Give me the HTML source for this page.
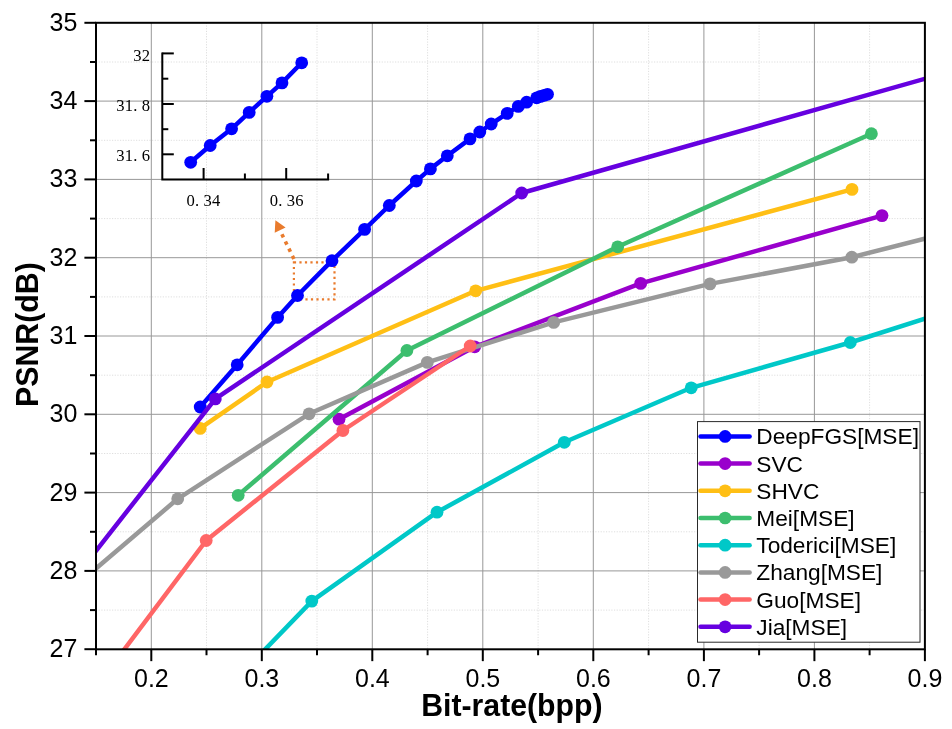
<!DOCTYPE html>
<html><head><meta charset="utf-8"><title>PSNR vs Bit-rate</title>
<style>html,body{margin:0;padding:0;background:#fff;}svg{display:block;will-change:transform;}text{font-family:"Liberation Sans",sans-serif;fill:#000;}.s{font-family:"Liberation Serif",serif;font-size:16.6px;}</style></head><body>
<svg width="952" height="729" viewBox="0 0 952 729">
<rect width="952" height="729" fill="#fff"/>
<defs><clipPath id="cp"><rect x="96.0" y="22.8" width="828.9" height="626.45"/></clipPath></defs>
<g><line x1="206.5" y1="22.8" x2="206.5" y2="649.25" stroke="#dedede" stroke-width="1" stroke-dasharray="1.2 1.47"/><line x1="317.0" y1="22.8" x2="317.0" y2="649.25" stroke="#dedede" stroke-width="1" stroke-dasharray="1.2 1.47"/><line x1="427.6" y1="22.8" x2="427.6" y2="649.25" stroke="#dedede" stroke-width="1" stroke-dasharray="1.2 1.47"/><line x1="538.1" y1="22.8" x2="538.1" y2="649.25" stroke="#dedede" stroke-width="1" stroke-dasharray="1.2 1.47"/><line x1="648.6" y1="22.8" x2="648.6" y2="649.25" stroke="#dedede" stroke-width="1" stroke-dasharray="1.2 1.47"/><line x1="759.1" y1="22.8" x2="759.1" y2="649.25" stroke="#dedede" stroke-width="1" stroke-dasharray="1.2 1.47"/><line x1="869.6" y1="22.8" x2="869.6" y2="649.25" stroke="#dedede" stroke-width="1" stroke-dasharray="1.2 1.47"/><line x1="96.0" y1="610.1" x2="924.9" y2="610.1" stroke="#dedede" stroke-width="1" stroke-dasharray="1.2 1.47"/><line x1="96.0" y1="531.8" x2="924.9" y2="531.8" stroke="#dedede" stroke-width="1" stroke-dasharray="1.2 1.47"/><line x1="96.0" y1="453.5" x2="924.9" y2="453.5" stroke="#dedede" stroke-width="1" stroke-dasharray="1.2 1.47"/><line x1="96.0" y1="375.2" x2="924.9" y2="375.2" stroke="#dedede" stroke-width="1" stroke-dasharray="1.2 1.47"/><line x1="96.0" y1="296.9" x2="924.9" y2="296.9" stroke="#dedede" stroke-width="1" stroke-dasharray="1.2 1.47"/><line x1="96.0" y1="218.6" x2="924.9" y2="218.6" stroke="#dedede" stroke-width="1" stroke-dasharray="1.2 1.47"/><line x1="96.0" y1="140.3" x2="924.9" y2="140.3" stroke="#dedede" stroke-width="1" stroke-dasharray="1.2 1.47"/><line x1="96.0" y1="62.0" x2="924.9" y2="62.0" stroke="#dedede" stroke-width="1" stroke-dasharray="1.2 1.47"/><line x1="151.3" y1="22.8" x2="151.3" y2="649.25" stroke="#989898" stroke-width="1"/><line x1="261.8" y1="22.8" x2="261.8" y2="649.25" stroke="#989898" stroke-width="1"/><line x1="372.3" y1="22.8" x2="372.3" y2="649.25" stroke="#989898" stroke-width="1"/><line x1="482.8" y1="22.8" x2="482.8" y2="649.25" stroke="#989898" stroke-width="1"/><line x1="593.3" y1="22.8" x2="593.3" y2="649.25" stroke="#989898" stroke-width="1"/><line x1="703.9" y1="22.8" x2="703.9" y2="649.25" stroke="#989898" stroke-width="1"/><line x1="814.4" y1="22.8" x2="814.4" y2="649.25" stroke="#989898" stroke-width="1"/><line x1="96.0" y1="570.9" x2="924.9" y2="570.9" stroke="#989898" stroke-width="1"/><line x1="96.0" y1="492.6" x2="924.9" y2="492.6" stroke="#989898" stroke-width="1"/><line x1="96.0" y1="414.3" x2="924.9" y2="414.3" stroke="#989898" stroke-width="1"/><line x1="96.0" y1="336.0" x2="924.9" y2="336.0" stroke="#989898" stroke-width="1"/><line x1="96.0" y1="257.7" x2="924.9" y2="257.7" stroke="#989898" stroke-width="1"/><line x1="96.0" y1="179.4" x2="924.9" y2="179.4" stroke="#989898" stroke-width="1"/><line x1="96.0" y1="101.1" x2="924.9" y2="101.1" stroke="#989898" stroke-width="1"/></g>
<rect x="293.9" y="262.4" width="40.6" height="37.0" fill="none" stroke="#e97b2d" stroke-width="2.2" stroke-dasharray="2.2 3.3"/>
<line x1="293.9" y1="259.0" x2="280.8" y2="232.0" stroke="#e97b2d" stroke-width="3.6" stroke-dasharray="3.5 4.5"/>
<polygon points="275.4,220.3 285.6,227.4 274.7,232.8" fill="#e97b2d"/>
<g clip-path="url(#cp)">
<path d="M200.2,407.0 L237.2,364.8 L277.6,317.4 L297.5,295.5 L332.0,260.7 L364.6,229.4 L389.3,205.5 L416.3,181.0 L430.4,168.9 L447.3,155.8 L470.0,138.9 L479.8,132.0 L491.2,124.0 L507.2,113.4 L518.3,106.4 L526.6,102.2 L536.7,97.8 L540.5,96.4 L544.2,95.3 L547.5,94.3" fill="none" stroke="#0000ff" stroke-width="4.5" stroke-linejoin="round" stroke-linecap="butt"/><circle cx="200.2" cy="407.0" r="6.4" fill="#0000ff"/><circle cx="237.2" cy="364.8" r="6.4" fill="#0000ff"/><circle cx="277.6" cy="317.4" r="6.4" fill="#0000ff"/><circle cx="297.5" cy="295.5" r="6.4" fill="#0000ff"/><circle cx="332.0" cy="260.7" r="6.4" fill="#0000ff"/><circle cx="364.6" cy="229.4" r="6.4" fill="#0000ff"/><circle cx="389.3" cy="205.5" r="6.4" fill="#0000ff"/><circle cx="416.3" cy="181.0" r="6.4" fill="#0000ff"/><circle cx="430.4" cy="168.9" r="6.4" fill="#0000ff"/><circle cx="447.3" cy="155.8" r="6.4" fill="#0000ff"/><circle cx="470.0" cy="138.9" r="6.4" fill="#0000ff"/><circle cx="479.8" cy="132.0" r="6.4" fill="#0000ff"/><circle cx="491.2" cy="124.0" r="6.4" fill="#0000ff"/><circle cx="507.2" cy="113.4" r="6.4" fill="#0000ff"/><circle cx="518.3" cy="106.4" r="6.4" fill="#0000ff"/><circle cx="526.6" cy="102.2" r="6.4" fill="#0000ff"/><circle cx="536.7" cy="97.8" r="6.4" fill="#0000ff"/><circle cx="540.5" cy="96.4" r="6.4" fill="#0000ff"/><circle cx="544.2" cy="95.3" r="6.4" fill="#0000ff"/><circle cx="547.5" cy="94.3" r="6.4" fill="#0000ff"/>
<path d="M339.0,419.2 L474.7,346.8 L640.7,283.4 L882.0,215.6" fill="none" stroke="#9900cc" stroke-width="4.5" stroke-linejoin="round" stroke-linecap="butt"/><circle cx="339.0" cy="419.2" r="6.4" fill="#9900cc"/><circle cx="474.7" cy="346.8" r="6.4" fill="#9900cc"/><circle cx="640.7" cy="283.4" r="6.4" fill="#9900cc"/><circle cx="882.0" cy="215.6" r="6.4" fill="#9900cc"/>
<path d="M200.2,428.4 L267.0,382.0 L475.7,290.8 L852.0,189.4" fill="none" stroke="#ffbf15" stroke-width="4.5" stroke-linejoin="round" stroke-linecap="butt"/><circle cx="200.2" cy="428.4" r="6.4" fill="#ffbf15"/><circle cx="267.0" cy="382.0" r="6.4" fill="#ffbf15"/><circle cx="475.7" cy="290.8" r="6.4" fill="#ffbf15"/><circle cx="852.0" cy="189.4" r="6.4" fill="#ffbf15"/>
<path d="M238.2,495.3 L406.9,350.5 L617.7,246.8 L871.4,133.7" fill="none" stroke="#3cbe6e" stroke-width="4.5" stroke-linejoin="round" stroke-linecap="butt"/><circle cx="238.2" cy="495.3" r="6.4" fill="#3cbe6e"/><circle cx="406.9" cy="350.5" r="6.4" fill="#3cbe6e"/><circle cx="617.7" cy="246.8" r="6.4" fill="#3cbe6e"/><circle cx="871.4" cy="133.7" r="6.4" fill="#3cbe6e"/>
<path d="M200.0,716.7 L311.8,601.1 L437.0,512.2 L564.3,442.3 L691.2,387.8 L850.3,342.5 L1000.0,294.7" fill="none" stroke="#00c8c8" stroke-width="4.5" stroke-linejoin="round" stroke-linecap="butt"/><circle cx="311.8" cy="601.1" r="6.4" fill="#00c8c8"/><circle cx="437.0" cy="512.2" r="6.4" fill="#00c8c8"/><circle cx="564.3" cy="442.3" r="6.4" fill="#00c8c8"/><circle cx="691.2" cy="387.8" r="6.4" fill="#00c8c8"/><circle cx="850.3" cy="342.5" r="6.4" fill="#00c8c8"/>
<path d="M15.7,637.0 L177.7,498.8 L309.1,413.8 L427.3,362.4 L553.7,322.4 L710.0,283.9 L851.8,257.2 L1000.0,219.5" fill="none" stroke="#999999" stroke-width="4.5" stroke-linejoin="round" stroke-linecap="butt"/><circle cx="177.7" cy="498.8" r="6.4" fill="#999999"/><circle cx="309.1" cy="413.8" r="6.4" fill="#999999"/><circle cx="427.3" cy="362.4" r="6.4" fill="#999999"/><circle cx="553.7" cy="322.4" r="6.4" fill="#999999"/><circle cx="710.0" cy="283.9" r="6.4" fill="#999999"/><circle cx="851.8" cy="257.2" r="6.4" fill="#999999"/>
<path d="M71.8,719.2 L206.2,540.5 L342.9,430.5 L470.2,346.0" fill="none" stroke="#ff6666" stroke-width="4.5" stroke-linejoin="round" stroke-linecap="butt"/><circle cx="206.2" cy="540.5" r="6.4" fill="#ff6666"/><circle cx="342.9" cy="430.5" r="6.4" fill="#ff6666"/><circle cx="470.2" cy="346.0" r="6.4" fill="#ff6666"/>
<path d="M17.2,651.1 L215.3,398.9 L521.7,193.0 L1000.0,57.5" fill="none" stroke="#6600e0" stroke-width="4.5" stroke-linejoin="round" stroke-linecap="butt"/><circle cx="215.3" cy="398.9" r="6.4" fill="#6600e0"/><circle cx="521.7" cy="193.0" r="6.4" fill="#6600e0"/>
</g>
<rect x="96.0" y="22.8" width="828.9" height="626.5" fill="none" stroke="#000" stroke-width="2"/>
<g stroke="#000" stroke-width="2"><line x1="84.4" y1="649.2" x2="96.0" y2="649.2"/><line x1="84.4" y1="570.9" x2="96.0" y2="570.9"/><line x1="84.4" y1="492.6" x2="96.0" y2="492.6"/><line x1="84.4" y1="414.3" x2="96.0" y2="414.3"/><line x1="84.4" y1="336.0" x2="96.0" y2="336.0"/><line x1="84.4" y1="257.7" x2="96.0" y2="257.7"/><line x1="84.4" y1="179.4" x2="96.0" y2="179.4"/><line x1="84.4" y1="101.1" x2="96.0" y2="101.1"/><line x1="84.4" y1="22.8" x2="96.0" y2="22.8"/><line x1="90.0" y1="610.1" x2="96.0" y2="610.1"/><line x1="90.0" y1="531.8" x2="96.0" y2="531.8"/><line x1="90.0" y1="453.5" x2="96.0" y2="453.5"/><line x1="90.0" y1="375.2" x2="96.0" y2="375.2"/><line x1="90.0" y1="296.9" x2="96.0" y2="296.9"/><line x1="90.0" y1="218.6" x2="96.0" y2="218.6"/><line x1="90.0" y1="140.3" x2="96.0" y2="140.3"/><line x1="90.0" y1="62.0" x2="96.0" y2="62.0"/><line x1="151.3" y1="649.25" x2="151.3" y2="661.15"/><line x1="261.8" y1="649.25" x2="261.8" y2="661.15"/><line x1="372.3" y1="649.25" x2="372.3" y2="661.15"/><line x1="482.8" y1="649.25" x2="482.8" y2="661.15"/><line x1="593.3" y1="649.25" x2="593.3" y2="661.15"/><line x1="703.9" y1="649.25" x2="703.9" y2="661.15"/><line x1="814.4" y1="649.25" x2="814.4" y2="661.15"/><line x1="924.9" y1="649.25" x2="924.9" y2="661.15"/><line x1="96.0" y1="649.25" x2="96.0" y2="655.25"/><line x1="206.5" y1="649.25" x2="206.5" y2="655.25"/><line x1="317.0" y1="649.25" x2="317.0" y2="655.25"/><line x1="427.6" y1="649.25" x2="427.6" y2="655.25"/><line x1="538.1" y1="649.25" x2="538.1" y2="655.25"/><line x1="648.6" y1="649.25" x2="648.6" y2="655.25"/><line x1="759.1" y1="649.25" x2="759.1" y2="655.25"/><line x1="869.6" y1="649.25" x2="869.6" y2="655.25"/></g>
<g font-size="25"><text x="77.4" y="657.1" text-anchor="end">27</text><text x="77.4" y="578.8" text-anchor="end">28</text><text x="77.4" y="500.5" text-anchor="end">29</text><text x="77.4" y="422.2" text-anchor="end">30</text><text x="77.4" y="343.9" text-anchor="end">31</text><text x="77.4" y="265.6" text-anchor="end">32</text><text x="77.4" y="187.3" text-anchor="end">33</text><text x="77.4" y="109.0" text-anchor="end">34</text><text x="77.4" y="30.7" text-anchor="end">35</text><text x="151.4" y="687.4" text-anchor="middle">0.2</text><text x="261.9" y="687.4" text-anchor="middle">0.3</text><text x="372.4" y="687.4" text-anchor="middle">0.4</text><text x="482.9" y="687.4" text-anchor="middle">0.5</text><text x="593.4" y="687.4" text-anchor="middle">0.6</text><text x="704.0" y="687.4" text-anchor="middle">0.7</text><text x="814.5" y="687.4" text-anchor="middle">0.8</text><text x="925.0" y="687.4" text-anchor="middle">0.9</text></g>
<text x="421.2" y="715.6" font-size="31" font-weight="bold" textLength="181.4" lengthAdjust="spacingAndGlyphs">Bit-rate(bpp)</text>
<text transform="translate(37.8,407.1) rotate(-90)" font-size="32" font-weight="bold" textLength="145" lengthAdjust="spacingAndGlyphs">PSNR(dB)</text>
<path d="M162.3,52.4 V179.5 H329.1" fill="none" stroke="#000" stroke-width="2" stroke-linejoin="miter"/>
<g stroke="#000" stroke-width="2"><line x1="162.3" y1="53.4" x2="173.8" y2="53.4"/><line x1="162.3" y1="104.0" x2="173.8" y2="104.0"/><line x1="162.3" y1="154.3" x2="173.8" y2="154.3"/><line x1="162.3" y1="78.7" x2="168.3" y2="78.7"/><line x1="162.3" y1="129.2" x2="168.3" y2="129.2"/><line x1="203.6" y1="179.5" x2="203.6" y2="168.0"/><line x1="286.2" y1="179.5" x2="286.2" y2="168.0"/><line x1="244.9" y1="179.5" x2="244.9" y2="173.5"/><line x1="328.1" y1="179.5" x2="328.1" y2="173.5"/></g>
<text class="s" x="133.2" y="60.5">3</text><text class="s" x="141.7" y="60.5">2</text><text class="s" x="116.2" y="110.8">3</text><text class="s" x="124.7" y="110.8">1</text><text class="s" x="133.2" y="110.8">.</text><text class="s" x="141.7" y="110.8">8</text><text class="s" x="116.2" y="160.9">3</text><text class="s" x="124.7" y="160.9">1</text><text class="s" x="133.2" y="160.9">.</text><text class="s" x="141.7" y="160.9">6</text>
<text class="s" x="186.6" y="205.8">0</text><text class="s" x="195.1" y="205.8">.</text><text class="s" x="203.6" y="205.8">3</text><text class="s" x="212.1" y="205.8">4</text><text class="s" x="269.8" y="205.8">0</text><text class="s" x="278.3" y="205.8">.</text><text class="s" x="286.8" y="205.8">3</text><text class="s" x="295.3" y="205.8">6</text>
<path d="M190.7,162.3 L210.2,145.5 L231.6,128.8 L249.2,112.4 L266.9,96.3 L282.0,82.9 L301.7,62.8" fill="none" stroke="#0000ff" stroke-width="4.5" stroke-linejoin="round" stroke-linecap="butt"/><circle cx="190.7" cy="162.3" r="6.4" fill="#0000ff"/><circle cx="210.2" cy="145.5" r="6.4" fill="#0000ff"/><circle cx="231.6" cy="128.8" r="6.4" fill="#0000ff"/><circle cx="249.2" cy="112.4" r="6.4" fill="#0000ff"/><circle cx="266.9" cy="96.3" r="6.4" fill="#0000ff"/><circle cx="282.0" cy="82.9" r="6.4" fill="#0000ff"/><circle cx="301.7" cy="62.8" r="6.4" fill="#0000ff"/>
<rect x="697.5" y="421.6" width="222.5" height="220.6" fill="#fff" stroke="#2a2a2a" stroke-width="1"/>
<line x1="700.5" y1="436.4" x2="749.6" y2="436.4" stroke="#0000ff" stroke-width="4.5" stroke-linecap="round"/><circle cx="725.1" cy="436.4" r="6.35" fill="#0000ff"/><text x="756.3" y="444.4" font-size="22.7">DeepFGS[MSE]</text>
<line x1="700.5" y1="463.6" x2="749.6" y2="463.6" stroke="#9900cc" stroke-width="4.5" stroke-linecap="round"/><circle cx="725.1" cy="463.6" r="6.35" fill="#9900cc"/><text x="756.3" y="471.6" font-size="22.7">SVC</text>
<line x1="700.5" y1="490.8" x2="749.6" y2="490.8" stroke="#ffbf15" stroke-width="4.5" stroke-linecap="round"/><circle cx="725.1" cy="490.8" r="6.35" fill="#ffbf15"/><text x="756.3" y="498.8" font-size="22.7">SHVC</text>
<line x1="700.5" y1="518.0" x2="749.6" y2="518.0" stroke="#3cbe6e" stroke-width="4.5" stroke-linecap="round"/><circle cx="725.1" cy="518.0" r="6.35" fill="#3cbe6e"/><text x="756.3" y="526.0" font-size="22.7">Mei[MSE]</text>
<line x1="700.5" y1="545.2" x2="749.6" y2="545.2" stroke="#00c8c8" stroke-width="4.5" stroke-linecap="round"/><circle cx="725.1" cy="545.2" r="6.35" fill="#00c8c8"/><text x="756.3" y="553.2" font-size="22.7">Toderici[MSE]</text>
<line x1="700.5" y1="572.4" x2="749.6" y2="572.4" stroke="#999999" stroke-width="4.5" stroke-linecap="round"/><circle cx="725.1" cy="572.4" r="6.35" fill="#999999"/><text x="756.3" y="580.4" font-size="22.7">Zhang[MSE]</text>
<line x1="700.5" y1="599.6" x2="749.6" y2="599.6" stroke="#ff6666" stroke-width="4.5" stroke-linecap="round"/><circle cx="725.1" cy="599.6" r="6.35" fill="#ff6666"/><text x="756.3" y="607.6" font-size="22.7">Guo[MSE]</text>
<line x1="700.5" y1="626.8" x2="749.6" y2="626.8" stroke="#6600e0" stroke-width="4.5" stroke-linecap="round"/><circle cx="725.1" cy="626.8" r="6.35" fill="#6600e0"/><text x="756.3" y="634.8" font-size="22.7">Jia[MSE]</text>
</svg></body></html>
